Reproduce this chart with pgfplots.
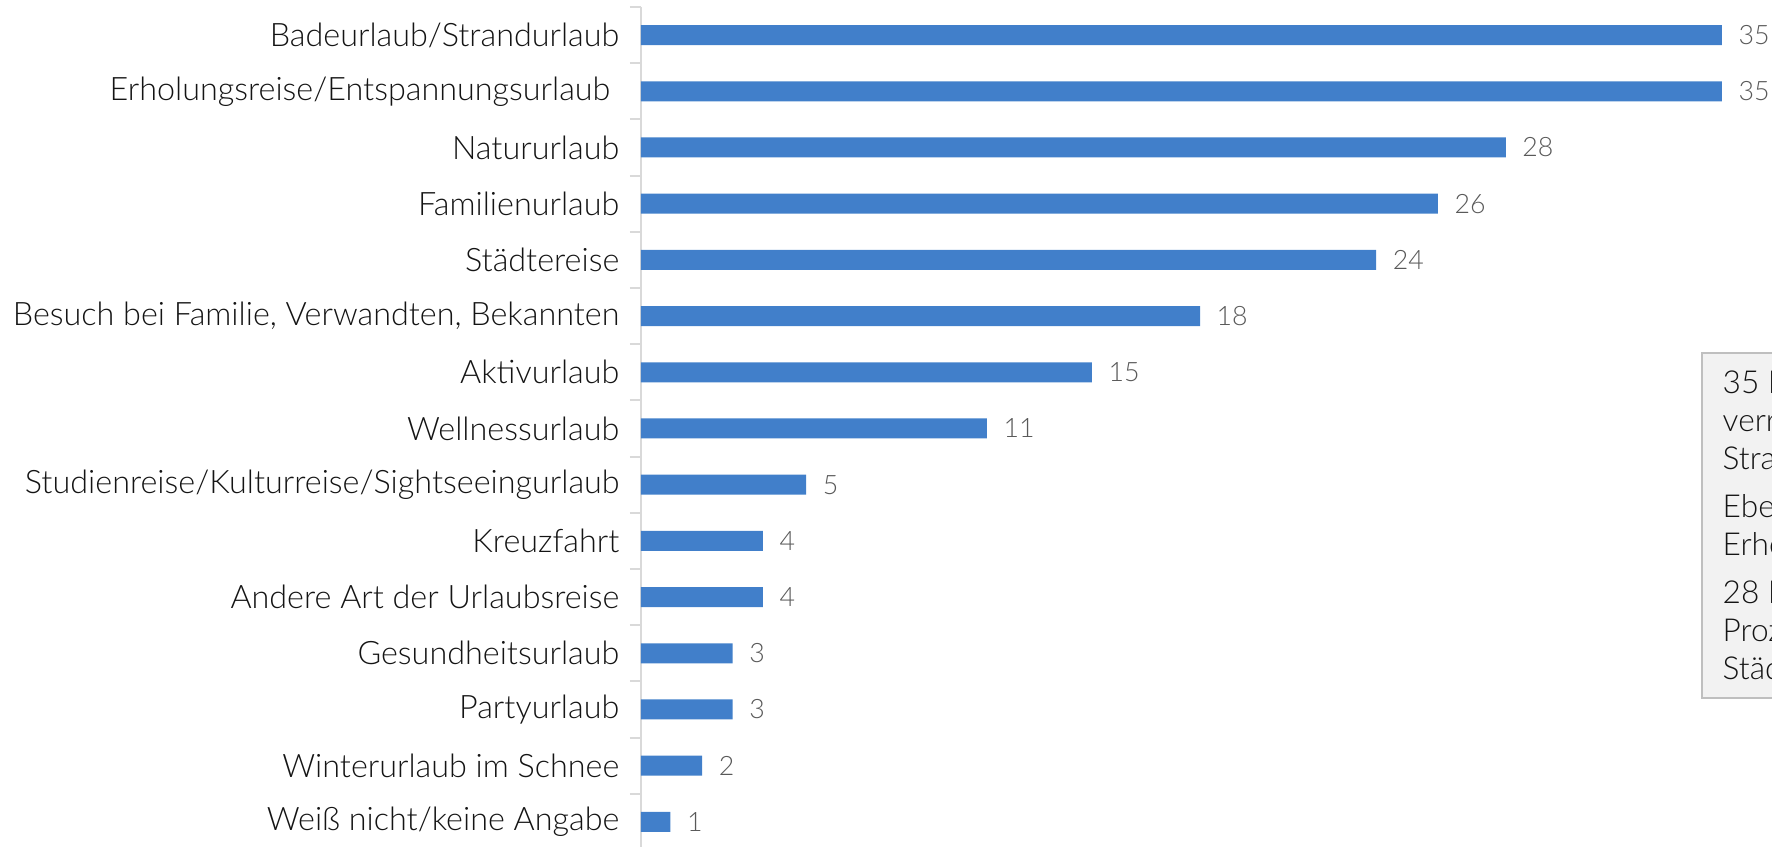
\documentclass[border=0pt]{standalone}
\usepackage{fontspec}
\setmainfont{Lato}[UprightFont=* Light]
\usepackage{pgfplots}
\usepackage{pgfplotstable}
\pgfplotsset{compat=1.18}
\definecolor{barblue}{RGB}{65,127,202}
\definecolor{axisgray}{RGB}{217,217,217}
\definecolor{valgray}{RGB}{89,89,89}
\definecolor{labblack}{RGB}{20,20,20}
\definecolor{boxfill}{RGB}{242,242,242}
\definecolor{boxdraw}{RGB}{191,191,191}
\pgfplotstableread{
v i l
35 0 35
35 1 35
28 2 28
25.8 3 26
23.8 4 24
18.1 5 18
14.6 6 15
11.2 7 11
5.35 8 5
3.95 9 4
3.95 10 4
2.97 11 3
2.97 12 3
1.98 13 2
0.95 14 1
}\datatable
\begin{document}
\begin{tikzpicture}
\begin{axis}[
  at={(6.41cm,8.40cm)}, anchor=north west,
  scale only axis,
  width=10.81cm, height=8.43cm,
  xmin=0, xmax=35, ymin=-0.5, ymax=14.5,
  y dir=reverse,
  axis x line=none,
  axis y line*=left,
  axis line style={draw=axisgray, line width=0.2mm},
  xbar, bar width=2mm,
  ytick={0,...,14},
  yticklabels={Badeurlaub/Strandurlaub, {Erholungsreise/Entspannungsurlaub\rule{0.9mm}{0pt}}, Natururlaub, Familienurlaub, Städtereise, {Besuch bei Familie, Verwandten, Bekannten}, Aktivurlaub, Wellnessurlaub, Studienreise/Kulturreise/Sightseeingurlaub, Kreuzfahrt, Andere Art der Urlaubsreise, Gesundheitsurlaub, Partyurlaub, Winterurlaub im Schnee, Weiß nicht/keine Angabe},
  major tick length=0pt,
  yticklabel style={anchor=east, inner sep=0pt, xshift=-2.1mm, font=\fontsize{9.2}{11}\selectfont, text=labblack},
  extra y ticks={-0.5,0.5,...,14.5},
  extra y tick labels={},
  extra y tick style={major tick length=1.1mm, tick align=outside, tick style={draw=axisgray, line width=0.2mm}},
  point meta=explicit symbolic,
  nodes near coords,
  nodes near coords style={anchor=west, inner sep=0pt, xshift=1.6mm, font=\fontsize{7.6}{9}\selectfont, text=valgray},
  clip=false,
]
\addplot[fill=barblue, draw=none] table[x=v, y=i, meta=l] {\datatable};
\end{axis}
\draw[fill=boxfill, draw=boxdraw, line width=0.15mm] (17.02cm,1.49cm) rectangle (19.5cm,4.94cm);
\node[anchor=north west, inner sep=0pt, align=left, font=\fontsize{9}{10.8}\selectfont, text=labblack] at (17.22cm,8.47cm-3.70cm) {35 Prozent der Befragten\\verreisten für einen\\Strandurlaub.\\[1.0mm]Ebenso viele wählten eine\\Erholungsreise.\\[1.0mm]28 Prozent Natururlaub, 24\\Prozent eine\\Städtereise.};
\pgfresetboundingbox
\useasboundingbox (0,0) rectangle (17.72cm,8.47cm);
\end{tikzpicture}
\end{document}
